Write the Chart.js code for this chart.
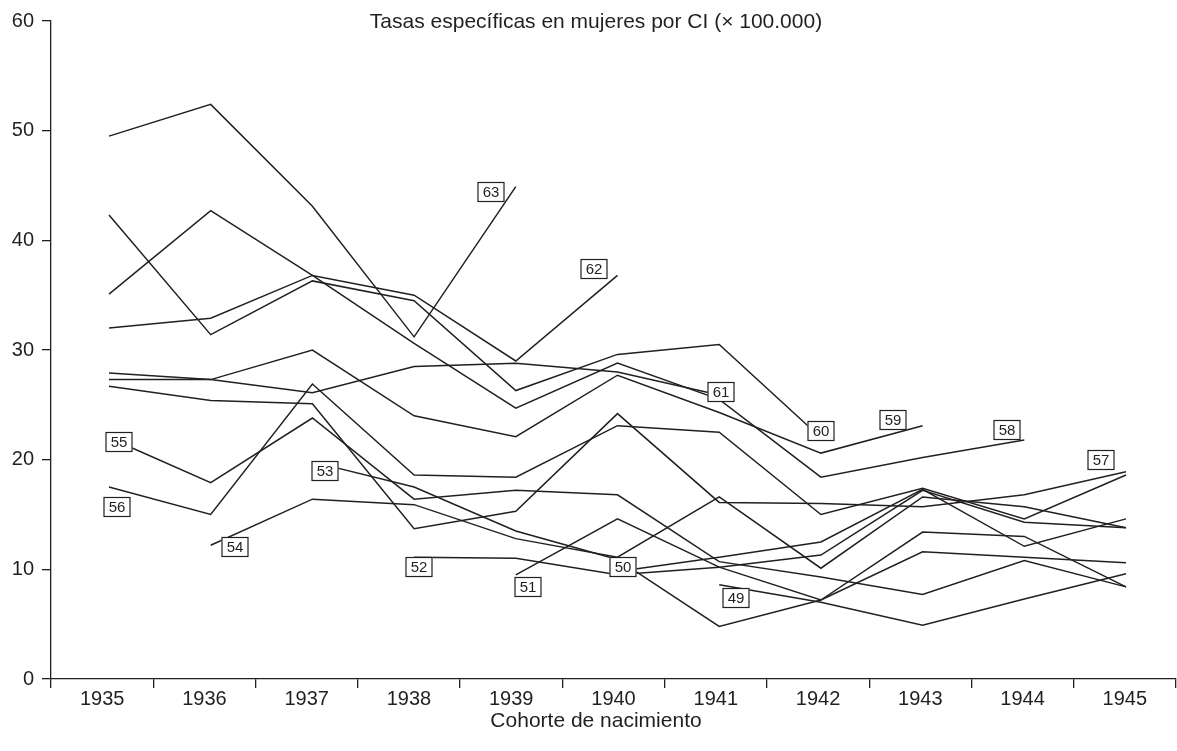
<!DOCTYPE html>
<html>
<head>
<meta charset="utf-8">
<script src="https://cdn.jsdelivr.net/npm/chart.js@4/dist/chart.umd.min.js"></script>
<style>
  html, body { margin: 0; padding: 0; background: #fff; }
  #wrap { width: 1177px; height: 751px; position: relative; }
</style>
</head>
<body>
<div id="wrap"><canvas id="c" width="1177" height="751"></canvas></div>
<script>
// ---- data ----
const years = [1935, 1936, 1937, 1938, 1939, 1940, 1941, 1942, 1943, 1944, 1945];
const yTicks = [0, 10, 20, 30, 40, 50, 60];
const ages = ['63', '62', '61', '60', '59', '58', '57', '56', '55', '54', '53', '52', '51', '50', '49'];
const a63 = [49.5, 52.4, 43.1, 31.2, 44.9, null, null, null, null, null, null];
const a62 = [32.0, 32.9, 36.8, 35.0, 29.0, 36.8, null, null, null, null, null];
const a61 = [27.9, 27.3, 26.1, 28.5, 28.8, 28.0, 25.9, null, null, null, null];
const a60 = [42.3, 31.4, 36.3, 34.5, 26.3, 29.6, 30.5, 22.0, null, null, null];
const a59 = [27.3, 27.3, 30.0, 24.0, 22.1, 27.7, 24.3, 20.6, 23.1, null, null];
const a58 = [35.1, 42.7, 36.8, 30.6, 24.7, 28.8, 25.5, 18.4, 20.2, 21.8, null];
const a57 = [26.7, 25.4, 25.1, 13.7, 15.3, 24.2, 16.1, 16.0, 15.7, 16.8, 18.9];
const a56 = [17.5, 15.0, 26.9, 18.6, 18.4, 23.1, 22.5, 15.0, 17.4, 14.6, 18.6];
const a55 = [22.0, 17.9, 23.8, 16.4, 17.2, 16.8, 10.7, 9.3, 7.7, 10.8, 8.4];
const a54 = [null, 12.2, 16.4, 15.9, 12.8, 11.1, 16.6, 10.1, 16.6, 15.7, 13.8];
const a53 = [null, null, 19.8, 17.5, 13.5, 10.9, 4.8, 7.2, 11.6, 11.1, 10.6];
const a52 = [null, null, null, 11.1, 11.0, 9.5, 10.2, 11.3, 17.2, 14.3, 13.8];
const a51 = [null, null, null, null, 9.5, 14.6, 10.2, 7.2, 13.4, 13.0, 8.4];
const a50 = [null, null, null, null, null, 9.8, 11.1, 12.5, 17.3, 12.1, 14.6];
const a49 = [null, null, null, null, null, null, 8.6, 7.0, 4.9, 7.3, 9.6];
const series = [a63, a62, a61, a60, a59, a58, a57, a56, a55, a54, a53, a52, a51, a50, a49];
const labelAt = ['end', 'end', 'end', 'end', 'end', 'end', 'end', 'start', 'start', 'start', 'start', 'start', 'start', 'start', 'start'];

// ---- label box placement (pixel offsets from the anchored point) ----
const labelOffsets = {
  '63': [-25, 5], '62': [-24, -6], '61': [2, -3], '60': [0, -7], '59': [-30, -6],
  '58': [-17, -10], '57': [-25, -12], '56': [8, 20], '55': [10, 4], '54': [24, 2],
  '53': [13, 9], '52': [5, 10], '51': [12, 12], '50': [5, -5], '49': [17, 13]
};

const INK = '#231f20';
const FONT = "'Liberation Sans', Arial, sans-serif";

const datasets = series.map((arr, i) => ({
  label: ages[i],
  data: years.map((yr, j) => ({ x: yr, y: arr[j] })),
  xAxisID: 'xd',
  yAxisID: 'y',
  borderColor: INK,
  borderWidth: 1.5,
  pointRadius: 0,
  fill: false,
  tension: 0,
  spanGaps: false
}));

const ageLabels = {
  id: 'ageLabels',
  afterDatasetsDraw(chart) {
    const ctx = chart.ctx;
    ctx.save();
    chart.data.datasets.forEach((ds, i) => {
      const meta = chart.getDatasetMeta(i);
      const arr = series[i];
      let idx = -1;
      if (labelAt[i] === 'end') {
        for (let k = arr.length - 1; k >= 0; k--) if (arr[k] !== null) { idx = k; break; }
      } else {
        for (let k = 0; k < arr.length; k++) if (arr[k] !== null) { idx = k; break; }
      }
      const pt = meta.data[idx];
      const off = labelOffsets[ds.label];
      const cx = Math.round(pt.x + off[0]);
      const cy = Math.round(pt.y + off[1]);
      const w = 27, h = 20;
      ctx.fillStyle = '#fff';
      ctx.fillRect(cx - w / 2, cy - h / 2, w, h);
      ctx.strokeStyle = INK;
      ctx.lineWidth = 1.2;
      ctx.strokeRect(cx - w / 2 + 0.5, cy - h / 2 + 0.5, w - 1, h - 1);
      ctx.fillStyle = INK;
      ctx.font = '15px ' + FONT;
      ctx.textAlign = 'center';
      ctx.textBaseline = 'middle';
      ctx.fillText(ds.label, cx, cy + 1);
    });
    ctx.restore();
  }
};

const texts = {
  id: 'texts',
  afterDraw(chart) {
    const ctx = chart.ctx;
    ctx.save();
    ctx.fillStyle = INK;
    ctx.textAlign = 'center';
    ctx.textBaseline = 'middle';
    ctx.font = '21px ' + FONT;
    ctx.fillText('Tasas específicas en mujeres por CI (\u00d7 100.000)', 596, 22);
    ctx.fillText('Cohorte de nacimiento', 596, 721);
    ctx.restore();
  }
};

new Chart(document.getElementById('c'), {
  type: 'line',
  data: { labels: years.map(String), datasets },
  options: {
    responsive: false,
    animation: false,
    devicePixelRatio: 1,
    layout: { padding: { top: 21, right: 1, left: 0, bottom: 0 } },
    plugins: { legend: { display: false }, tooltip: { enabled: false }, title: { display: false } },
    scales: {
      x: {
        type: 'category',
        offset: true,
        grid: { offset: true, drawOnChartArea: false, tickLength: 9, color: INK, lineWidth: 1.3 },
        border: { display: true, color: INK, width: 1.3 },
        ticks: { color: INK, font: { family: FONT, size: 20 }, padding: -1, maxRotation: 0, autoSkip: false },
        afterFit(s) { s.height = 72; }
      },
      xd: {
        type: 'linear',
        display: false,
        min: 1934.4297,
        max: 1945.4916
      },
      y: {
        type: 'linear',
        min: 0,
        max: 60,
        afterBuildTicks(s) { s.ticks = yTicks.map(v => ({ value: v })); },
        grid: { drawOnChartArea: false, tickLength: 9, color: INK, lineWidth: 1.3 },
        border: { display: true, color: INK, width: 1.3 },
        ticks: { color: INK, font: { family: FONT, size: 20 }, padding: 8 },
        afterFit(s) { s.width = 51; }
      }
    }
  },
  plugins: [ageLabels, texts]
});
</script>
</body>
</html>
